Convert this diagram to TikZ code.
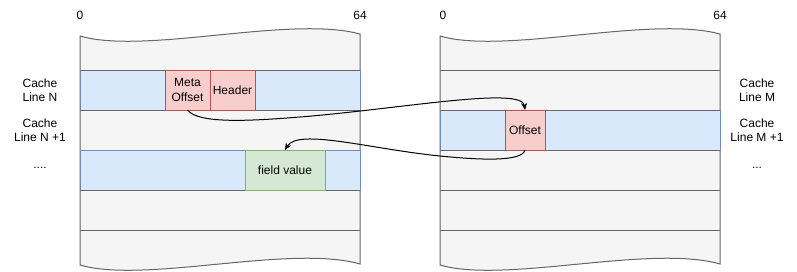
\documentclass[tikz,border=0pt]{standalone}
\usepackage{fontspec}
\setmainfont{Liberation Sans}
\usetikzlibrary{arrows.meta}
\definecolor{grayfill}{HTML}{F5F5F5}
\definecolor{graystroke}{HTML}{666666}
\definecolor{bluefill}{HTML}{DAE8FC}
\definecolor{bluestroke}{HTML}{6C8EBF}
\definecolor{redfill}{HTML}{F8CECC}
\definecolor{redstroke}{HTML}{B85450}
\definecolor{greenfill}{HTML}{D5E8D4}
\definecolor{greenstroke}{HTML}{82B366}
\tikzset{
  tapebody/.style={fill=grayfill, draw=graystroke, line width=1pt},
  grayline/.style={draw=graystroke, line width=1pt},
  bluerow/.style={rectangle, fill=bluefill, draw=bluestroke, line width=1pt, inner sep=0pt, outer sep=0pt, minimum width=280pt, minimum height=40pt},
  redbox/.style={rectangle, fill=redfill, draw=redstroke, line width=1pt, inner sep=0pt, outer sep=0pt, minimum height=40pt, align=center},
  greenbox/.style={rectangle, fill=greenfill, draw=greenstroke, line width=1pt, inner sep=0pt, outer sep=0pt, minimum height=40pt, align=center},
  lbl/.style={align=center, inner sep=0pt},
  conn/.style={draw=black, line width=1pt, -{Stealth[length=7pt,width=6pt]}}
}
\begin{document}
\begin{tikzpicture}[x=1pt,y=-1pt, font=\fontsize{12}{14.5}\selectfont]
\useasboundingbox (0,0) rectangle (797,271);
% left tape
\draw[tapebody] (80,36) .. controls (145,55) and (290,15) .. (360,34) -- (360,264)
   .. controls (290,244) and (145,284) .. (80,265) -- cycle;
% right tape
\draw[tapebody] (440,36) .. controls (505,55) and (650,15) .. (720,34) -- (720,264)
   .. controls (650,244) and (505,284) .. (440,265) -- cycle;
% blue rows
\node[bluerow] (rowN) at (220,90) {};
\node[bluerow] (rowNN) at (220,170) {};
\node[bluerow] (rowM) at (580,130) {};
% gray row lines
\foreach \y in {70,110,190,230} \draw[grayline] (80,\y) -- (360,\y);
\foreach \y in {70,110,150,190,230} \draw[grayline] (440,\y) -- (720,\y);
% boxes
\node[redbox, minimum width=45pt] (meta) at (187.5,90) {Meta\\Offset};
\node[redbox, minimum width=45pt] (hdr) at (232.5,90) {Header};
\node[greenbox, minimum width=80pt] (fv) at (285,170) {field value};
\node[redbox, minimum width=40pt] (off) at (525,130) {Offset};
% top labels
\node[lbl] (l0) at (80,15) {0};
\node[lbl] (l64) at (360,15) {64};
\node[lbl] (r0) at (443,15) {0};
\node[lbl] (r64) at (720,15) {64};
% side labels
\node[lbl] (cln) at (40,90) {Cache\\Line N};
\node[lbl] (cln1) at (40,130) {Cache\\Line N +1};
\node[lbl] (ldots) at (40,168) {....};
\node[lbl] (clm) at (757,90) {Cache\\Line M};
\node[lbl] (clm1) at (757,130) {Cache\\Line M +1};
\node[lbl] (rdots) at (757,168) {...};
% connectors
\draw[conn] (meta.south) .. controls (198,124) and (250,121) .. (300,117)
   .. controls (400,109) and (522,86) .. (off.north);
\draw[conn] (off.south) .. controls (522,162) and (480,160) .. (440,156)
   .. controls (370,149) and (298,128) .. (fv.north);
\end{tikzpicture}
\end{document}
